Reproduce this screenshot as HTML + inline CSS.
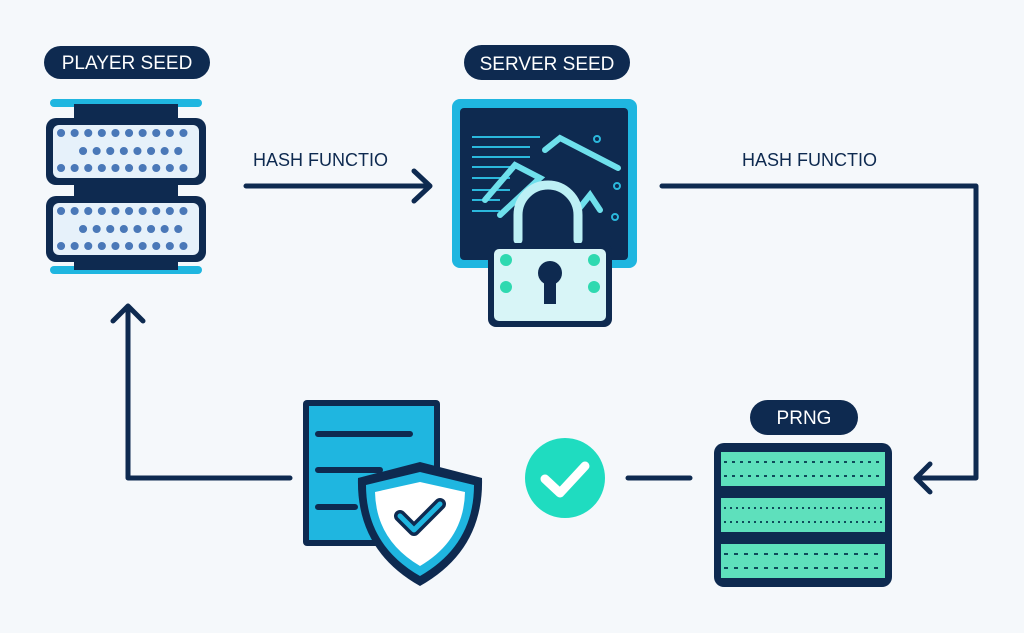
<!DOCTYPE html>
<html><head><meta charset="utf-8"><style>
html,body{margin:0;padding:0;background:#f4f7fb;}
svg{display:block}
text{font-family:"Liberation Sans",sans-serif;}
</style></head><body>
<svg width="1024" height="633" viewBox="0 0 1024 633" xmlns="http://www.w3.org/2000/svg">
<rect width="1024" height="633" fill="#f5f8fb"/>
<g stroke="#0e2a50" stroke-width="5" fill="none" stroke-linecap="round" stroke-linejoin="round">
  <path d="M246 186 H430 M414 171 L430 186 L414 201"/>
  <path d="M662 186 H976 V478 H916 M930 464 L916 478 L930 492"/>
  <path d="M290 478 H128 V306 M113 321 L128 306 L143 321"/>
  <path d="M628 478 H690"/>
</g>
<text x="253" y="166" font-size="18" fill="#0e2a50">HASH FUNCTIO</text>
<text x="742" y="166" font-size="18" fill="#0e2a50">HASH FUNCTIO</text>
<!-- player seed -->
<rect x="44" y="46" width="166" height="33" rx="16.5" fill="#0e2a50"/>
<text x="127" y="69" font-size="19" fill="#fff" text-anchor="middle">PLAYER SEED</text>
<rect x="50" y="99" width="152" height="8" rx="4" fill="#1fb6e0"/>
<rect x="50" y="266" width="152" height="8" rx="4" fill="#1fb6e0"/>
<rect x="74" y="104" width="104" height="166" fill="#0e2a50"/>
<rect x="46" y="118" width="160" height="67" rx="10" fill="#0e2a50"/>
<rect x="53" y="125" width="146" height="53" rx="6" fill="#e6f1fa"/>
<rect x="46" y="196" width="160" height="66" rx="10" fill="#0e2a50"/>
<rect x="53" y="203" width="146" height="52" rx="6" fill="#e6f1fa"/>
<g stroke="#4a78b8" stroke-width="8" stroke-linecap="round" stroke-dasharray="0.1 13.5">
<path d="M61 133 h136 M83 151 h100 M61 168 h136"/>
<path d="M61 211 h136 M83 229 h100 M61 246 h136"/>
</g>
<!-- server seed -->
<rect x="464" y="45" width="166" height="35" rx="17.5" fill="#0e2a50"/>
<text x="547" y="70" font-size="19" fill="#fff" text-anchor="middle">SERVER SEED</text>
<rect x="452" y="99" width="185" height="169" rx="8" fill="#1fb6e0"/>
<rect x="460" y="108" width="168" height="152" rx="4" fill="#0e2a50"/>
<g stroke="#2bb8dc" stroke-width="2">
<path d="M472 137 H540 M472 147 H530 M472 157 H530 M472 167 H520 M472 178 H510 M472 190 H510 M472 200 H500 M472 211 H500"/>
</g>
<g stroke="#6fe0ec" stroke-width="6" fill="none" stroke-linecap="round">
<path d="M545 150 L560 138 L618 168"/>
<path d="M485 200 L515 165 L540 178 L500 215"/>
<path d="M578 210 L590 195 L600 210"/>
<path d="M518 240 V215 A30 30 0 0 1 578 215 V240" stroke-width="9" stroke="#bdf0f5"/>
</g>
<g fill="none" stroke="#2bb8dc" stroke-width="2"><circle cx="597" cy="139" r="3"/><circle cx="617" cy="186" r="3"/><circle cx="615" cy="217" r="3"/></g>
<rect x="488" y="243" width="124" height="84" rx="8" fill="#0e2a50"/>
<rect x="494" y="249" width="112" height="72" rx="5" fill="#d8f5f7"/>
<g fill="#2fd9b0"><circle cx="506" cy="260" r="6"/><circle cx="506" cy="287" r="6"/><circle cx="594" cy="260" r="6"/><circle cx="594" cy="287" r="6"/></g>
<circle cx="550" cy="273" r="12" fill="#0e2a50"/><rect x="544" y="278" width="12" height="26" fill="#0e2a50"/>
<!-- doc + shield -->
<rect x="303" y="400" width="137" height="146" rx="4" fill="#0e2a50"/>
<rect x="309" y="406" width="125" height="134" fill="#1fb6e0"/>
<g stroke="#0e2a50" stroke-width="6" stroke-linecap="round"><path d="M318 434 H410 M318 470 H380 M318 507 H355"/></g>
<path d="M420 462 L482 478 Q484 550 420 586 Q356 550 358 478 Z" fill="#0e2a50"/>
<path d="M420 472 L474 485 Q474 545 420 576 Q366 545 366 485 Z" fill="#1fb6e0"/>
<path d="M420 482 L465 492 Q464 540 420 566 Q376 540 375 492 Z" fill="#fff"/>
<path d="M400 516 L414 530 L440 504" stroke="#0e2a50" stroke-width="12" fill="none" stroke-linecap="round" stroke-linejoin="round"/>
<path d="M400 516 L414 530 L440 504" stroke="#1fb6e0" stroke-width="5" fill="none" stroke-linecap="round" stroke-linejoin="round"/>
<!-- check -->
<circle cx="565" cy="478" r="40" fill="#1fdcc0"/>
<path d="M545 479 L560 493 L585 466" stroke="#fff" stroke-width="9" fill="none" stroke-linecap="round" stroke-linejoin="round"/>
<!-- PRNG -->
<rect x="750" y="400" width="108" height="35" rx="17.5" fill="#0e2a50"/>
<text x="804" y="424" font-size="19" fill="#fff" text-anchor="middle">PRNG</text>
<rect x="714" y="443" width="178" height="144" rx="10" fill="#0e2a50"/>
<rect x="721" y="452" width="164" height="34" fill="#5ee0bc"/>
<rect x="721" y="498" width="164" height="34" fill="#5ee0bc"/>
<rect x="721" y="544" width="164" height="34" fill="#5ee0bc"/>
<g stroke="#0e4a5a" stroke-width="2">
<path d="M724 462 h158 M724 476 h158" stroke-dasharray="3 5"/>
<path d="M724 508 h158 M724 522 h158" stroke-dasharray="2 4"/>
<path d="M724 554 h158 M724 568 h158" stroke-dasharray="4 6"/>
</g>
</svg>
</body></html>
